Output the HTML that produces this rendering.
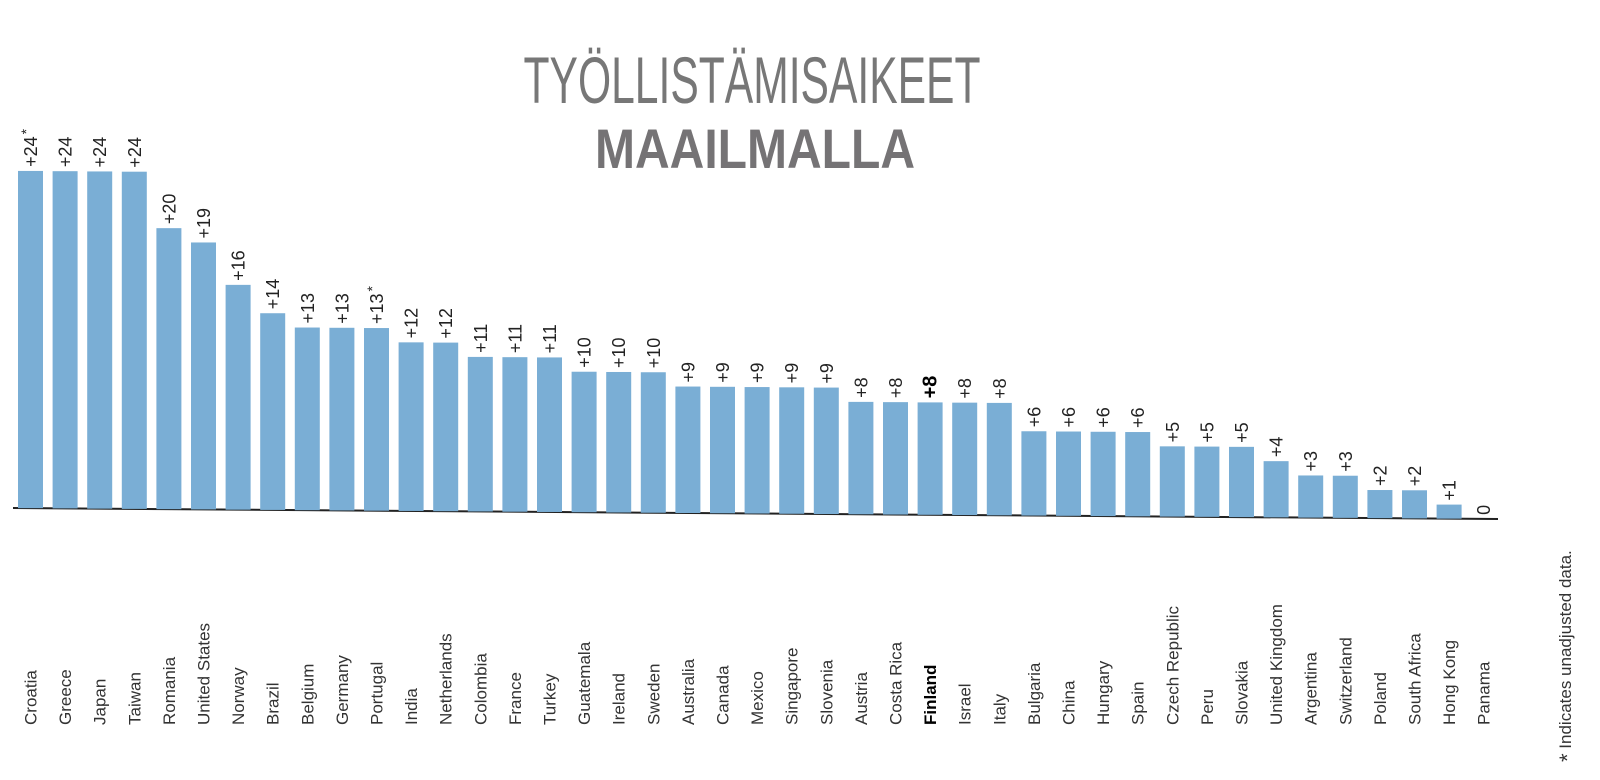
<!DOCTYPE html>
<html><head><meta charset="utf-8"><style>
html,body{margin:0;padding:0;background:#fff;width:1600px;height:780px;overflow:hidden}
svg{display:block;font-family:"Liberation Sans",Arial,sans-serif}
</style></head><body>
<svg id="chart" width="1600" height="780" viewBox="0 0 1600 780" xmlns="http://www.w3.org/2000/svg">
<text x="752" y="103" text-anchor="middle" font-size="66" fill="#777" textLength="457" lengthAdjust="spacingAndGlyphs">TYÖLLISTÄMISAIKEET</text>
<text x="755" y="168" text-anchor="middle" font-size="56" font-weight="bold" fill="#757375" textLength="320" lengthAdjust="spacingAndGlyphs">MAAILMALLA</text>
<line x1="13" y1="508" x2="1498" y2="519" stroke="#222" stroke-width="2"/>
<g id="bars"></g>
<text transform="translate(1571,762) rotate(-90)" font-size="17" fill="#333"><tspan font-size="22" dy="4">*</tspan><tspan dy="-4"> Indicates unadjusted data.</tspan></text>
</svg>
<script>
const categories = ["Croatia","Greece","Japan","Taiwan","Romania","United States","Norway","Brazil","Belgium","Germany","Portugal","India","Netherlands","Colombia","France","Turkey","Guatemala","Ireland","Sweden","Australia","Canada","Mexico","Singapore","Slovenia","Austria","Costa Rica","Finland","Israel","Italy","Bulgaria","China","Hungary","Spain","Czech Republic","Peru","Slovakia","United Kingdom","Argentina","Switzerland","Poland","South Africa","Hong Kong","Panama"];
const values = [24,24,24,24,20,19,16,14,13,13,13,12,12,11,11,11,10,10,10,9,9,9,9,9,8,8,8,8,8,6,6,6,6,5,5,5,4,3,3,2,2,1,0];
const unadjusted = ["Croatia","Portugal"];
const highlight = ["Finland"];

const NS = "http://www.w3.org/2000/svg";
const g = document.getElementById("bars");
const x0 = 18, step = 34.6, bw = 25, unit = 14.05;
function xPos(i){ return x0 + i*step; }
function baseY(x){ return 508 + (x-13)*(11/1485); }
function yPos(v, x){ return baseY(x) - v*unit; }

categories.forEach((c,i)=>{
  const v = values[i];
  const x = xPos(i), cx = x + bw/2;
  const b = baseY(cx), top = yPos(v, cx);
  const bold = highlight.includes(c);
  if (v > 0) {
    const r = document.createElementNS(NS,"rect");
    
    
    r.setAttribute("x", x); r.setAttribute("y", top);
    r.setAttribute("width", bw); r.setAttribute("height", b - top);
    r.setAttribute("fill", "#7aaed5");
    g.appendChild(r);
  }
  const t = document.createElementNS(NS,"text");
  
  
  t.setAttribute("transform", `translate(${cx+6.5},${top-4}) rotate(-90)`);
  t.setAttribute("font-size", bold ? "20" : "18");
  if (bold) t.setAttribute("font-weight", "bold");
  t.setAttribute("fill", bold ? "#000" : "#222");
  t.textContent = v > 0 ? "+" + v : String(v);
  if (unadjusted.includes(c)) {
    const s = document.createElementNS(NS,"tspan");
    s.setAttribute("font-size","14"); s.setAttribute("dy","-6"); s.setAttribute("dx","2");
    s.textContent = "*";
    t.appendChild(s);
  }
  g.appendChild(t);
  const l = document.createElementNS(NS,"text");
  
  
  l.setAttribute("transform", `translate(${cx+6},725) rotate(-90)`);
  l.setAttribute("font-size", "17");
  if (bold) l.setAttribute("font-weight", "bold");
  l.setAttribute("fill", bold ? "#000" : "#333");
  l.textContent = c;
  g.appendChild(l);
});
</script>
</body></html>
